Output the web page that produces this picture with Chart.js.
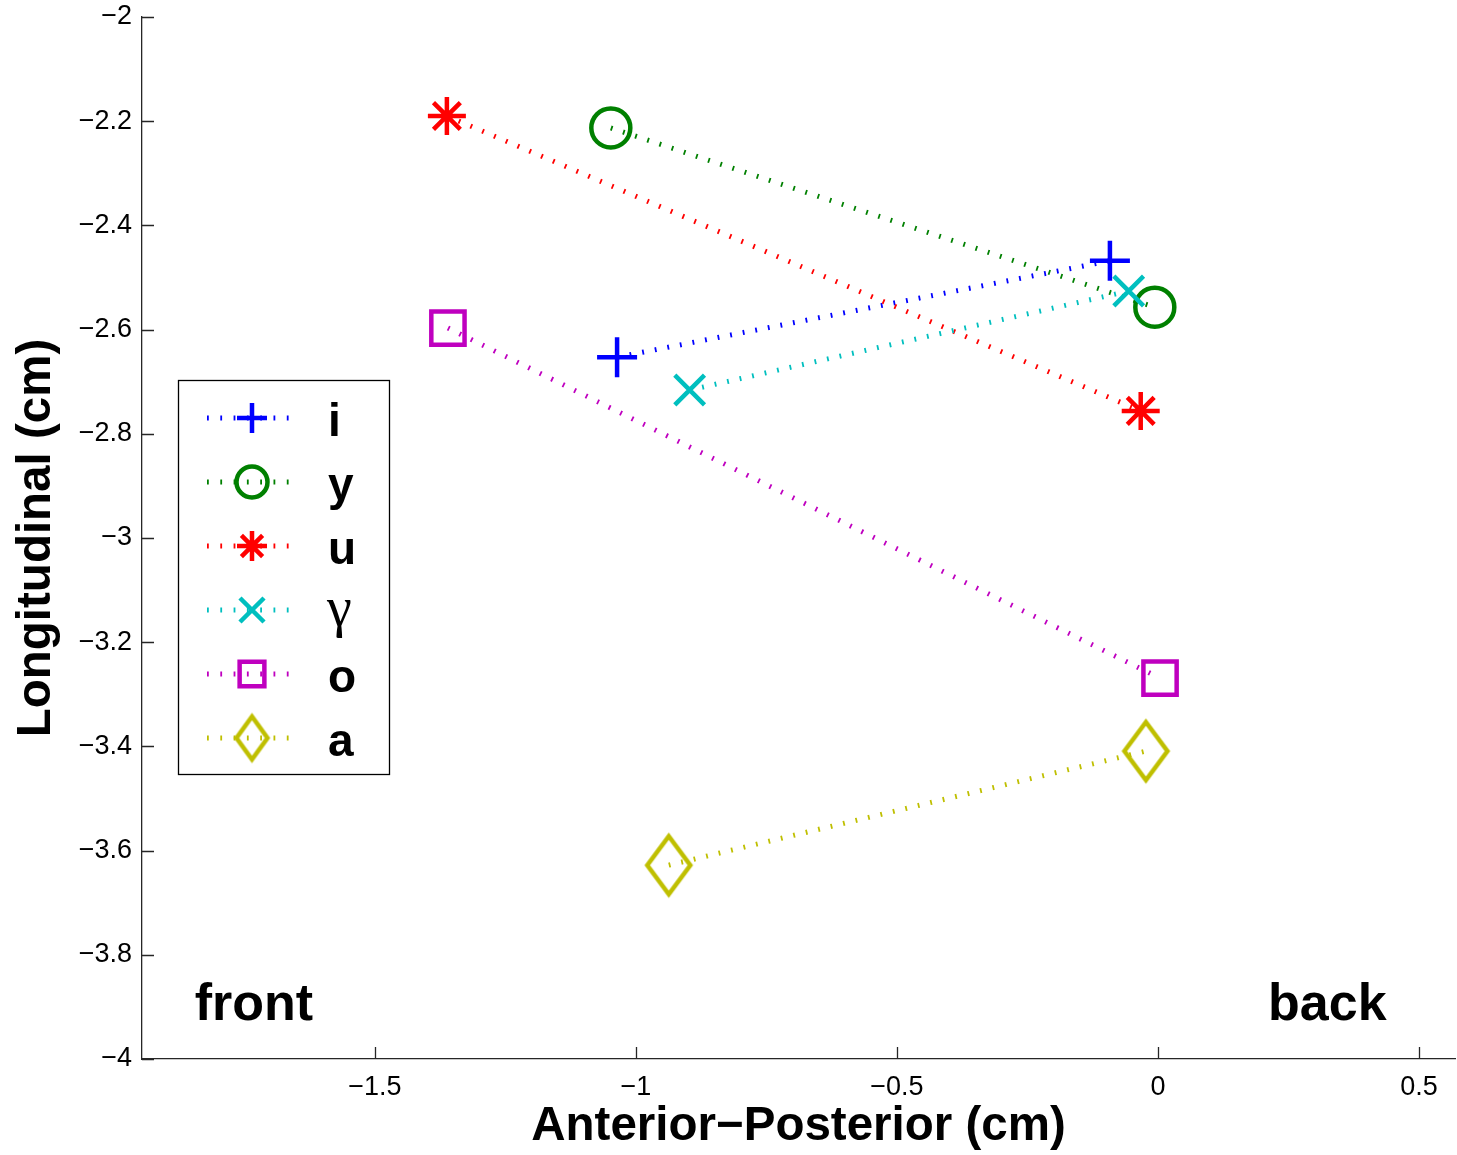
<!DOCTYPE html>
<html>
<head>
<meta charset="utf-8">
<script src="https://cdn.jsdelivr.net/npm/chart.js@4.4.1/dist/chart.umd.min.js"></script>
<style>
  html, body { margin: 0; padding: 0; background: #fff; overflow: hidden; }
  #wrap { width: 1457px; height: 1155px; position: relative; }
</style>
</head>
<body>
<div id="wrap"><canvas id="vowelChart"></canvas></div>
<script>
// vowel labels and their two measured positions (front / back)
const vowels = ['i', 'y', 'u', 'γ', 'o', 'a'];
const frontX = [-1.036, -1.048, -1.362, -0.897, -1.360, -0.937];
const frontY = [-2.653, -2.213, -2.190, -2.716, -2.597, -3.628];
const backX = [-0.092, -0.006, -0.033, -0.056, 0.004, -0.023];
const backY = [-2.468, -2.557, -2.756, -2.526, -3.269, -3.409];

// axis ticks
const xTicks = [-1.5, -1, -0.5, 0, 0.5];
const yTicks = [-4, -3.8, -3.6, -3.4, -3.2, -3, -2.8, -2.6, -2.4, -2.2, -2];

// text annotations inside the plot
const noteText = ['front', 'back'];
const noteX = [-1.845, 0.211];
const noteY = [-3.925, -3.925];

// styles (matlab-like colours and markers)
const colors = ['#0000ff', '#008000', '#ff0000', '#00bfbf', '#bf00bf', '#bfbf00'];

function diamondCanvas(w, h, color, lw) {
    const c = document.createElement('canvas');
    c.width = Math.ceil(w + lw * 4);
    c.height = Math.ceil(h + lw * 4);
    const g = c.getContext('2d');
    const cx = c.width / 2, cy = c.height / 2;
    g.strokeStyle = color;
    g.lineWidth = lw;
    g.beginPath();
    g.moveTo(cx, cy - h / 2);
    g.lineTo(cx + w / 2, cy);
    g.lineTo(cx, cy + h / 2);
    g.lineTo(cx - w / 2, cy);
    g.closePath();
    g.stroke();
    return c;
}

const markers = [
    { style: 'cross', r: 20, lr: 15 },
    { style: 'circle', r: 19.5, lr: 15.5 },
    { style: 'star', r: 19, lr: 15 },
    { style: 'crossRot', r: 21, lr: 17 },
    { style: 'rect', r: 23.5, lr: 17.5 },
    { style: diamondCanvas(43, 58, colors[5], 4.5), legendStyle: diamondCanvas(31, 43, colors[5], 4.5), r: 20, lr: 15 }
];

const tickFont = { family: "'Liberation Sans', Arial, sans-serif", size: 27 };
const titleFont = { family: "'Liberation Sans', Arial, sans-serif", size: 47.5, weight: 'bold' };
const fmt = v => String(Number(v.toFixed(1))).replace('-', '\u2212');

const datasets = vowels.map((v, i) => ({
    label: v,
    data: [{ x: frontX[i], y: frontY[i] }, { x: backX[i], y: backY[i] }],
    showLine: true,
    borderColor: colors[i],
    borderWidth: 5,
    borderDash: [1.8, 11],
    backgroundColor: 'rgba(0,0,0,0)',
    pointStyle: markers[i].style,
    pointRadius: markers[i].r,
    pointHoverRadius: markers[i].r,
    pointBorderWidth: 4.5,
    pointBorderColor: colors[i],
    pointBackgroundColor: 'rgba(0,0,0,0)',
    order: vowels.length - i,
    clip: false
}));

// inward tick marks like matlab
const inwardTicks = {
    id: 'inwardTicks',
    afterDraw(chart) {
        const { ctx, chartArea, scales } = chart;
        ctx.save();
        ctx.strokeStyle = '#262626';
        ctx.lineWidth = 1.3;
        ctx.beginPath();
        scales.x.ticks.forEach(t => {
            const px = Math.round(scales.x.getPixelForValue(t.value)) + 0.5;
            ctx.moveTo(px, chartArea.bottom);
            ctx.lineTo(px, chartArea.bottom - 12);
        });
        scales.y.ticks.forEach(t => {
            const py = Math.round(scales.y.getPixelForValue(t.value)) + 0.5;
            ctx.moveTo(chartArea.left, py);
            ctx.lineTo(chartArea.left + 12, py);
        });
        ctx.stroke();
        ctx.restore();
    }
};

// "front" / "back" text
const notes = {
    id: 'notes',
    afterDraw(chart) {
        const { ctx, scales } = chart;
        ctx.save();
        ctx.fillStyle = '#000';
        ctx.font = "bold 52px 'Liberation Sans', Arial, sans-serif";
        ctx.textAlign = 'left';
        ctx.textBaseline = 'alphabetic';
        noteText.forEach((t, i) => {
            ctx.fillText(t, scales.x.getPixelForValue(noteX[i]), scales.y.getPixelForValue(noteY[i]));
        });
        ctx.restore();
    }
};

// boxed legend with dotted line sample + marker
const boxLegend = {
    id: 'boxLegend',
    afterDraw(chart) {
        const ctx = chart.ctx;
        const box = { x: 178.5, y: 380.5, w: 211, h: 394 };
        ctx.save();
        ctx.fillStyle = '#fff';
        ctx.fillRect(box.x, box.y, box.w, box.h);
        ctx.strokeStyle = '#000';
        ctx.lineWidth = 1.3;
        ctx.strokeRect(box.x, box.y, box.w, box.h);
        chart.data.datasets.forEach((ds, i) => {
            const cy = 418 + i * 64;
            ctx.save();
            ctx.strokeStyle = ds.borderColor;
            ctx.lineWidth = 5;
            ctx.setLineDash([1.8, 11.5]);
            ctx.beginPath();
            ctx.moveTo(207, cy);
            ctx.lineTo(292, cy);
            ctx.stroke();
            ctx.restore();

            ctx.save();
            ctx.strokeStyle = ds.borderColor;
            ctx.fillStyle = 'rgba(0,0,0,0)';
            ctx.lineWidth = 4.5;
            const m = markers[i];
            Chart.helpers.drawPoint(ctx, {
                pointStyle: m.legendStyle || m.style,
                radius: m.lr,
                rotation: 0,
                borderWidth: 4.5
            }, 252, cy);
            ctx.restore();

            ctx.fillStyle = '#000';
            ctx.textAlign = 'left';
            ctx.textBaseline = 'alphabetic';
            if (ds.label === 'γ') {
                ctx.font = "56px 'Liberation Serif', 'DejaVu Serif', serif";
                ctx.fillText(ds.label, 327, cy + 16);
            } else {
                ctx.font = "bold 46px 'Liberation Sans', Arial, sans-serif";
                ctx.fillText(ds.label, 328, cy + 18);
            }
        });
        ctx.restore();
    }
};

// drop the label overhang padding so the plot box fills the canvas like the original
const noPad = s => { s.paddingLeft = 0; s.paddingRight = 0; s.paddingTop = 0; s.paddingBottom = 0; };

const chart = new Chart(document.getElementById('vowelChart'), {
    type: 'scatter',
    data: { datasets: datasets },
    options: {
        responsive: true,
        maintainAspectRatio: false,
        animation: false,
        layout: { autoPadding: false, padding: { top: 17, right: 2, left: 0, bottom: 0 } },
        plugins: {
            legend: { display: false },
            tooltip: { enabled: false }
        },
        elements: { line: { tension: 0 } },
        scales: {
            x: {
                type: 'linear',
                min: -1.946,
                max: 0.569,
                afterBuildTicks: s => { s.ticks = xTicks.map(v => ({ value: v })); },
                afterFit: s => { s.height = 96; noPad(s); },
                grid: { display: false },
                border: { display: true, color: '#262626', width: 1.3 },
                ticks: { color: '#000', font: tickFont, padding: 4, maxRotation: 0, callback: v => fmt(v) },
                title: { display: true, text: 'Anterior\u2212Posterior (cm)', color: '#000', font: titleFont, padding: 0 }
            },
            y: {
                type: 'linear',
                min: -4,
                max: -2,
                afterBuildTicks: s => { s.ticks = yTicks.map(v => ({ value: v })); },
                afterFit: s => { s.width = 142; noPad(s); },
                grid: { display: false },
                border: { display: true, color: '#262626', width: 1.3 },
                ticks: { color: '#000', font: tickFont, padding: 2, callback: v => fmt(v) },
                title: { display: true, text: 'Longitudinal (cm)', color: '#000', font: titleFont, padding: { top: 8, bottom: 0 } }
            }
        }
    },
    plugins: [inwardTicks, notes, boxLegend]
});
</script>
</body>
</html>
